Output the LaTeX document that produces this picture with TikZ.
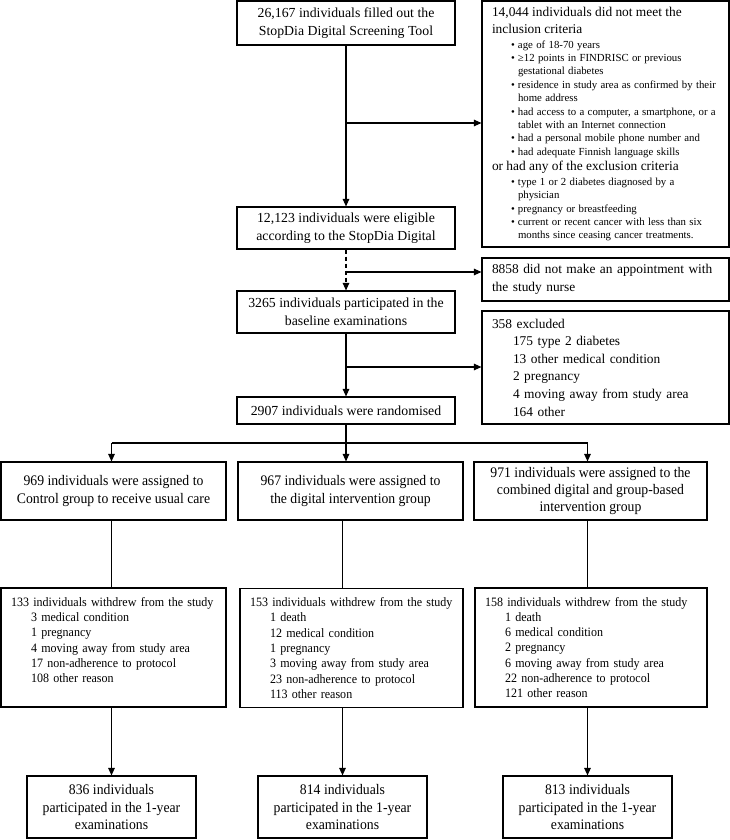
\documentclass[tikz,border=0pt]{standalone}
\usepackage{fontspec}
\setmainfont{Liberation Serif}
\newfontfamily\narrowrm[FakeStretch=0.94]{Liberation Serif}
\usetikzlibrary{arrows.meta}

\newcommand{\bigtxt}{\fontsize{13.8}{17.8}\selectfont}
\newcommand{\sidetxt}{\fontsize{13.4}{17.6}\selectfont}
\newcommand{\crittxt}{\fontsize{10.8}{13.4}\selectfont}
\newcommand{\grptxt}{\narrowrm\fontsize{14.6}{17.4}\selectfont}
\newcommand{\wdtxt}{\narrowrm\fontsize{12.8}{15.3}\selectfont}
\newcommand{\itm}{\hspace*{26pt}\llap{\textbullet\hspace{3pt}}}
\newcommand{\cnt}{\hspace*{26pt}}
\newcommand{\subln}{\hspace*{20pt}}

\tikzset{
  box/.style={draw,line width=1.1pt,inner sep=0pt,align=center},
  topbox/.style={box,font=\bigtxt,minimum width=218pt},
  listbox/.style={draw,line width=1.1pt,inner xsep=10pt,inner ysep=0pt,align=left},
  grpbox/.style={box,font=\grptxt,minimum height=58pt},
  finbox/.style={box,font=\grptxt,minimum width=169pt,minimum height=62pt},
  wdbox/.style={listbox,font=\wdtxt,minimum height=119pt},
  arr/.style={-{Triangle[length=7.5pt,width=6.5pt]},line width=1.1pt},
  con/.style={line width=1.1pt}
}

\begin{document}
\begin{tikzpicture}[x=1pt,y=-1pt]
\useasboundingbox (0,0) rectangle (730,840);

\node[topbox,minimum height=44pt] (fill) at (346,23) {26,167 individuals filled out the\\StopDia Digital Screening Tool};
\node[topbox,minimum height=42pt] (elig) at (346,228) {12,123 individuals were eligible\\according to the StopDia Digital};
\node[topbox,minimum height=42pt] (base) at (346,312) {3265 individuals participated in the\\baseline examinations};
\node[topbox,minimum height=27pt] (rand) at (346,410.5) {2907 individuals were randomised};

\node[listbox,text width=227pt,minimum height=246pt] (excl) at (605.5,124) {%
\sidetxt 14,044 individuals did not meet the\\inclusion criteria\par
\vspace{1pt}\crittxt
\itm age of 18-70 years\\
\itm ≥12 points in FINDRISC or previous\\
\cnt gestational diabetes\\
\itm residence in study area as confirmed by their\\
\cnt home address\\
\itm had access to a computer, a smartphone, or a\\
\cnt tablet with an Internet connection\\
\itm had a personal mobile phone number and\\
\itm had adequate Finnish language skills\par
\vspace{-2.5pt}\sidetxt or had any of the exclusion criteria\par
\vspace{1.5pt}\crittxt
\itm type 1 or 2 diabetes diagnosed by a\\
\cnt physician\\
\itm pregnancy or breastfeeding\\
\itm current or recent cancer with less than six\\
\cnt months since ceasing cancer treatments.\par};

\node[listbox,font=\sidetxt,text width=227pt,minimum height=43pt] (appt) at (605.5,279.5) {8858 did not make an appointment with\\the study nurse};

\node[listbox,font=\sidetxt,text width=227pt,minimum height=113pt] (exc) at (605.5,367.5) {358 excluded\\
\hspace*{21pt}175 type 2 diabetes\\
\hspace*{21pt}13 other medical condition\\
\hspace*{21pt}2 pregnancy\\
\hspace*{21pt}4 moving away from study area\\
\hspace*{21pt}164 other};

\node[grpbox,minimum width=225pt] (grp1) at (113.5,491) {969 individuals were assigned to\\Control group to receive usual care};
\node[grpbox,minimum width=225pt] (grp2) at (350.5,491) {967 individuals were assigned to\\the digital intervention group};
\node[grpbox,minimum width=233pt] (grp3) at (590.5,491) {971 individuals were assigned to the\\combined digital and group-based\\intervention group};

\node[wdbox,text width=205pt] (wd1) at (113.5,647.5) {133 individuals withdrew from the study\\
\subln 3 medical condition\\
\subln 1 pregnancy\\
\subln 4 moving away from study area\\
\subln 17 non-adherence to protocol\\
\subln 108 other reason\\ \mbox{}};
\node[wdbox,text width=203pt] (wd2) at (351.5,648) {153 individuals withdrew from the study\\
\subln 1 death\\
\subln 12 medical condition\\
\subln 1 pregnancy\\
\subln 3 moving away from study area\\
\subln 23 non-adherence to protocol\\
\subln 113 other reason};
\node[wdbox,text width=212pt] (wd3) at (591,647.5) {158 individuals withdrew from the study\\
\subln 1 death\\
\subln 6 medical condition\\
\subln 2 pregnancy\\
\subln 6 moving away from study area\\
\subln 22 non-adherence to protocol\\
\subln 121 other reason};

\node[finbox] (fin1) at (111.5,807) {836 individuals\\participated in the 1-year\\examinations};
\node[finbox] (fin2) at (342.5,807) {814 individuals\\participated in the 1-year\\examinations};
\node[finbox] (fin3) at (587.5,807) {813 individuals\\participated in the 1-year\\examinations};

\coordinate (j1) at (346,123);
\coordinate (j2) at (346,272);
\coordinate (j3) at (346,367);
\coordinate (s) at (346,443);

\draw[arr] (fill.south) -- (elig.north);
\draw[arr] (j1) -- (j1 -| excl.west);
\draw[arr,dash pattern=on 4pt off 3pt] (elig.south) -- (base.north);
\draw[arr] (j2) -- (j2 -| appt.west);
\draw[arr] (base.south) -- (rand.north);
\draw[arr] (j3) -- (j3 -| exc.west);

\draw[arr] (rand.south) -- (rand.south |- grp2.north);
\draw[con] (fin1 |- s) -- (fin3 |- s);
\draw[arr] (fin1 |- s) -- (fin1 |- grp1.north);
\draw[arr] (fin3 |- s) -- (fin3 |- grp3.north);

\draw[con] (fin1 |- grp1.south) -- (fin1 |- wd1.north);
\draw[con] (fin2 |- grp2.south) -- (fin2 |- wd2.north);
\draw[con] (fin3 |- grp3.south) -- (fin3 |- wd3.north);
\draw[arr] (fin1 |- wd1.south) -- (fin1.north);
\draw[arr] (fin2 |- wd2.south) -- (fin2.north);
\draw[arr] (fin3 |- wd3.south) -- (fin3.north);

\end{tikzpicture}
\end{document}
